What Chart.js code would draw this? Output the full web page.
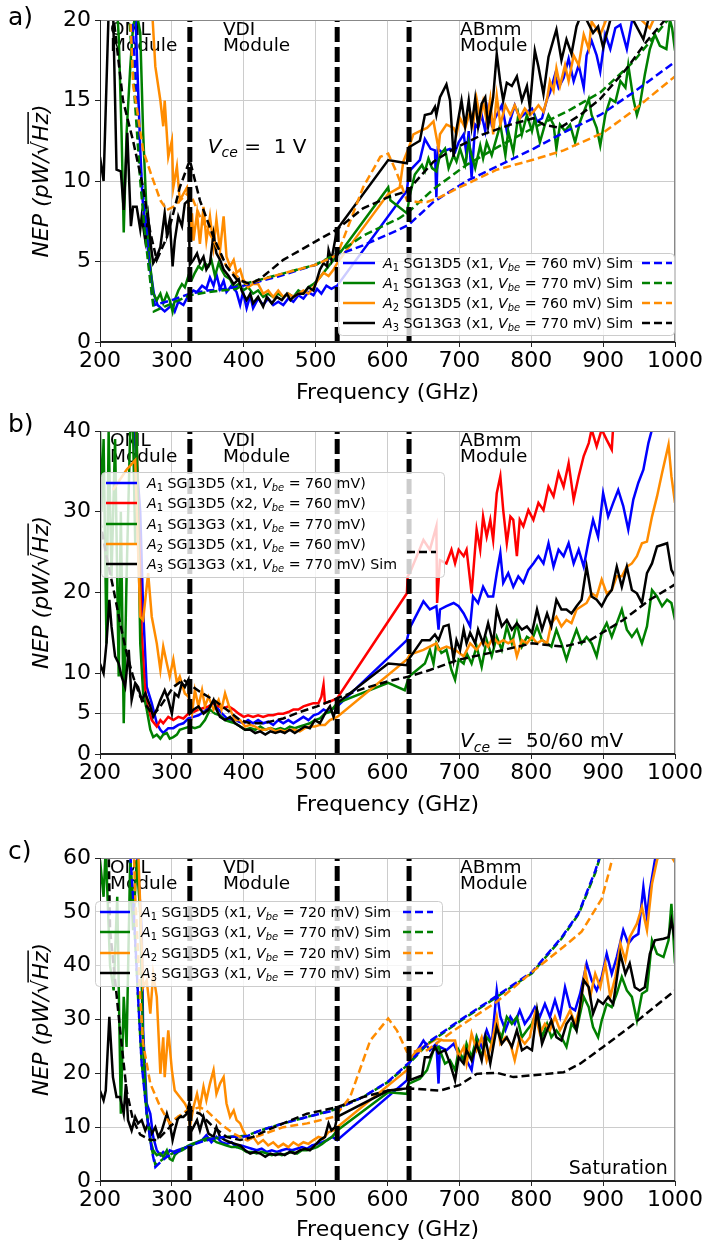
<!DOCTYPE html>
<html>
<head>
<meta charset="utf-8">
<script src="https://cdn.jsdelivr.net/npm/chart.js@4.4.0/dist/chart.umd.min.js"></script>
<style>
  body { margin: 0; background: #fff; width: 710px; height: 1247px; overflow: hidden; }
  canvas { position: absolute; left: 0; }
</style>
</head>
<body>
<canvas id="panelA" width="710" height="410" style="top:0px"></canvas>
<canvas id="panelB" width="710" height="412" style="top:410px"></canvas>
<canvas id="panelC" width="710" height="417" style="top:830px"></canvas>
<script>
// module borders (GHz)
const moduleEdges = [325, 530, 630];
const yTicksB = [0, 5, 10, 20, 30, 40];

// ---------- panel a) Vce = 1 V ----------
const aBlue = [[248,22],[252,17],[256,12],[259,9],[262,7.5],[266,6],[270,4.5],[275,3],[280,2.3],[290,1.9],[300,2.3],[304,1.9],[309,2.5],[316,2.3],[323,2.9],[330,3.2],[335,3.1],[342,3.5],[348,3.3],[353,4.0],[358,3.5],[362,4.2],[367,3.3],[372,3.8],[376,3.1],[383,3.5],[390,3.1],[395,2.3],[399,3.1],[404,2.1],[409,2.9],[413,2.1],[420,2.7],[427,2.3],[434,2.7],[441,2.3],[448,2.5],[455,2.3],[462,2.7],[469,2.5],[476,2.9],[483,2.7],[490,3.1],[497,2.9],[502,3.3],[508,3.0],[515,3.5],[522,3.3],[530,3.5],[627,9.4],[630,10.6],[645,11.3],[652,12.6],[660,12.0],[666,11.9],[668,9.0],[670,12.0],[675,11.8],[687,12.0],[694,11.8],[699,12.4],[706,12.9],[710,11.6],[713,13.1],[717,10.2],[722,13.5],[726,13.3],[731,14.1],[736,13.1],[740,14.5],[745,13.5],[752,14.1],[759,14.7],[766,13.1],[773,14.1],[777,14.7],[784,13.9],[794,14.3],[801,14.5],[808,13.7],[815,13.9],[822,15.1],[826,15.5],[833,16.6],[838,15.8],[845,16.4],[852,17.6],[859,16.2],[866,17.2],[873,15.8],[877,17.8],[884,18.7],[891,17.8],[896,16.8],[903,19.1],[910,18.2],[917,19.5],[924,19.7],[933,18.2],[940,19.9],[955,21],[970,20.3],[985,22],[1000,23]];
const aGreen = [[222,22],[226,19],[230,13],[233,6.8],[237,13],[242,17],[246,19.6],[251,20.5],[256,19.2],[260,13],[265,7.8],[270,4.7],[274,3.0],[279,2.6],[284,3.0],[288,2.4],[293,3.0],[297,2.6],[301,1.9],[304,2.6],[309,3.2],[314,3.6],[318,3.4],[323,4.1],[328,3.9],[332,4.3],[337,4.7],[342,4.5],[346,4.9],[351,4.7],[355,5.1],[360,4.1],[365,4.9],[369,4.5],[374,4.1],[381,3.9],[386,3.4],[393,3.6],[399,3.2],[406,3.4],[413,3.0],[420,3.2],[427,2.8],[434,3.0],[441,2.8],[448,3.0],[455,2.8],[462,3.0],[469,2.8],[476,3.2],[483,3.0],[490,3.4],[497,3.6],[504,3.9],[511,4.3],[518,4.7],[525,5.1],[530,5.3],[601,9.6],[604,8.8],[627,8.0],[631,9.1],[638,10.4],[648,11.0],[652,10.6],[657,11.4],[662,10.8],[668,10.6],[673,11.6],[680,12.0],[685,10.8],[692,11.6],[696,11.2],[701,12.0],[708,11.0],[713,12.4],[717,11.6],[722,10.8],[729,12.2],[733,11.4],[738,12.4],[745,11.6],[750,12.4],[757,13.5],[764,11.6],[768,13.1],[775,11.8],[782,14.1],[787,12.9],[794,14.1],[801,13.1],[805,13.9],[812,12.4],[819,13.5],[824,14.1],[831,13.5],[835,12.0],[840,13.5],[847,13.1],[854,13.5],[861,12.4],[868,13.7],[875,14.5],[880,15.1],[884,14.1],[891,13.3],[896,12.2],[903,14.1],[910,15.1],[917,14.9],[924,16.2],[931,15.8],[935,17.2],[942,15.1],[947,14.1],[951,14.7],[958,16.6],[965,18.2],[972,19.1],[979,18.4],[988,18.2],[993,20],[996,19.5],[1000,18.1]];
const aOrange = [[256,21],[272,21],[277,17.1],[284,15],[288,13.4],[290,15],[295,11.5],[300,12.5],[302,9.6],[307,10.9],[311,8.8],[316,9.2],[321,9.6],[323,9.0],[325,6.3],[328,8.0],[330,6.3],[335,8.0],[339,6.1],[344,8.4],[348,6.3],[353,7.8],[358,5.9],[362,7.6],[367,5.7],[372,7.8],[376,5.3],[381,4.7],[386,5.1],[390,4.3],[395,4.5],[399,3.9],[406,3.4],[413,3.6],[420,3.6],[427,3.0],[434,3.2],[441,2.8],[448,3.2],[455,2.8],[462,3.0],[469,2.8],[476,3.0],[483,3.2],[490,3.0],[497,3.4],[504,3.9],[511,4.3],[518,4.1],[525,4.5],[530,4.9],[601,9.2],[617,9.6],[622,11.2],[629,12.0],[636,12.9],[645,13.1],[655,13.3],[664,13.7],[671,12.0],[673,12.9],[682,13.5],[692,13.3],[696,12.9],[701,13.9],[708,13.3],[715,14.3],[719,13.5],[724,15.1],[729,13.9],[733,14.9],[738,13.7],[743,15.1],[747,12.9],[752,15.3],[757,13.5],[764,14.7],[771,14.1],[777,14.7],[784,13.9],[791,14.5],[798,14.1],[803,14.3],[810,14.7],[817,14.3],[822,15.1],[826,16.2],[831,15.6],[835,17.0],[840,15.9],[847,17.2],[852,16.2],[859,17.8],[866,17.2],[873,19.1],[880,18.2],[884,19.9],[896,19.1],[905,20.1],[930,21],[965,19.5],[980,21],[1000,21]];
const aBlack = [[200,11.5],[205,10],[212,20.5],[214,24],[218,21],[221,15],[223,10.7],[229,10.6],[233,8.2],[238,13],[243,7.2],[246,8.4],[251,8.4],[256,7.0],[258,7.8],[263,6.3],[267,7.8],[271,5.9],[274,4.9],[279,5.3],[284,5.9],[290,8.0],[293,6.7],[297,7.6],[301,4.7],[304,6.3],[309,7.8],[314,7.2],[318,8.6],[323,8.8],[325,4.8],[330,5.1],[335,5.5],[339,4.9],[344,5.3],[348,4.5],[353,4.9],[358,6.7],[362,5.5],[367,5.1],[372,4.5],[379,4.1],[386,3.6],[393,3.9],[397,3.2],[404,2.6],[409,3.0],[413,2.4],[420,2.8],[427,2.2],[432,2.8],[439,2.4],[446,2.8],[453,2.6],[460,3.0],[465,2.6],[469,2.8],[476,3.0],[483,3.0],[490,3.4],[497,3.2],[502,3.9],[506,4.5],[511,4.9],[516,4.7],[518,5.7],[522,5.1],[527,6.3],[530,7.0],[601,11.3],[627,11.1],[630,12.1],[645,12.5],[652,14.1],[661,14.2],[666,14.6],[668,14.1],[673,15.2],[682,16.0],[687,15.0],[692,11.5],[696,13.2],[703,15.0],[708,13.4],[713,15.0],[717,13.4],[722,15.1],[726,13.4],[731,14.8],[736,15.2],[740,13.4],[747,15.2],[752,17.9],[757,16.1],[761,15.0],[766,16.1],[773,15.9],[780,16.5],[787,15.0],[794,15.9],[798,14.6],[805,18.1],[810,17.1],[817,15.4],[824,17.7],[831,18.8],[835,19.4],[842,17.5],[849,18.8],[856,17.9],[863,19.6],[870,20.4],[877,20.0],[886,19.2],[893,19.6],[900,18.3],[910,20.0],[919,20.4],[937,20.4],[956,18.8],[965,20.4],[980,22],[1000,23]];
const aBlueSim = [[244,20.5],[249,17],[256,10.9],[265,6.8],[272,3.0],[276,2.3],[300,2.6],[325,3.0],[350,3.2],[375,3.3],[400,3.5],[450,4.1],[500,4.8],[530,5.4],[566,6.0],[617,7.0],[630,7.3],[664,8.7],[710,10.0],[757,11.0],[803,12.0],[849,13.1],[896,14.1],[942,15.5],[1000,17.4]];
const aGreenSim = [[238,22],[244,18],[250,14],[256,10],[262,7.0],[268,4.5],[275,1.9],[300,2.4],[325,2.9],[350,3.1],[390,3.3],[400,3.6],[450,4.2],[500,4.8],[530,5.5],[566,6.6],[617,7.7],[630,8.1],[664,9.5],[710,11.0],[757,12.2],[803,13.3],[849,14.3],[896,15.5],[942,17.4],[988,19.9],[1000,20.4]];
const aOrangeSim = [[242,20.5],[246,16],[251,14.6],[260,11.9],[272,10.3],[284,8.8],[293,8.2],[302,8.4],[321,9.2],[325,9.3],[339,7.8],[358,6.3],[376,4.7],[395,3.9],[404,3.6],[450,4.2],[500,4.8],[530,5.4],[566,9.6],[590,11.5],[601,11.7],[613,10.5],[627,8.8],[641,8.7],[655,8.7],[673,9.0],[700,9.6],[752,10.7],[801,11.3],[845,11.9],[900,13.0],[937,14.2],[1000,16.5]];
const aBlackSim = [[218,20.5],[232,15],[246,12.5],[260,9.6],[270,6.8],[279,5.1],[293,6.5],[302,8.0],[311,9.6],[325,11.3],[339,8.8],[358,6.5],[376,4.7],[390,3.9],[409,3.6],[422,3.9],[455,5.1],[502,6.3],[530,7.0],[566,8.3],[601,9.0],[630,9.4],[636,9.8],[664,11.2],[692,12.0],[733,12.9],[771,13.5],[803,13.9],[817,13.5],[840,13.3],[868,14.1],[896,15.1],[933,17.0],[961,18.7],[988,20.1],[1000,20.8]];

// ---------- panel b) Vce = 50/60 mV ----------
const bBlue = [[246,42],[256,30],[260,17.9],[265,8.3],[272,6.3],[279,3.8],[284,3.0],[288,2.6],[295,3.2],[302,3.2],[309,3.6],[316,3.8],[323,4.4],[330,4.6],[337,4.8],[344,5.2],[351,5.7],[358,6.3],[365,5.5],[372,4.8],[379,4.2],[386,4.4],[393,4.0],[400,3.8],[406,4.2],[413,3.8],[420,4.2],[427,3.8],[434,4.0],[441,3.6],[448,4.2],[455,3.8],[462,4.2],[469,3.8],[476,4.2],[483,4.6],[490,4.2],[497,4.8],[504,5.0],[511,5.5],[518,5.2],[525,5.7],[530,5.9],[627,14.1],[631,15.6],[650,18.9],[659,17.9],[668,18.3],[671,15.4],[673,17.9],[682,18.3],[692,18.7],[699,18.3],[706,17.4],[715,15.8],[719,19.5],[726,18.7],[733,20.7],[740,19.5],[747,19.5],[752,22.4],[757,24.9],[761,21.2],[768,22.4],[775,20.7],[782,22.0],[789,21.2],[796,22.8],[803,23.6],[810,24.5],[817,23.6],[824,26.1],[831,23.2],[838,25.3],[845,24.5],[852,26.1],[859,23.6],[866,25.3],[873,23.2],[880,26.5],[886,29.0],[893,26.9],[900,32.3],[907,29.4],[914,31.1],[921,32.7],[928,30.7],[935,27.8],[942,31.5],[949,33.6],[956,35.2],[963,38.5],[968,40.2],[972,43]];
const bRed = [[249,45],[255,25],[258,15],[262,8.8],[265,6.3],[272,4.2],[279,3.4],[284,4.2],[288,3.8],[295,4.6],[302,4.2],[309,4.6],[316,4.4],[323,5.0],[330,5.2],[337,5.5],[344,5.7],[351,5.9],[358,6.3],[365,5.9],[372,5.7],[379,5.9],[386,5.5],[393,5.0],[400,4.6],[406,4.8],[413,4.6],[420,4.8],[427,4.6],[434,4.8],[441,4.8],[448,5.0],[455,5.0],[462,5.2],[469,5.5],[476,5.5],[483,5.9],[490,6.1],[497,6.3],[504,6.3],[508,7.1],[511,8.6],[513,6.3],[520,6.5],[530,6.9],[627,19.9],[628,22.0],[631,22.4],[650,26.5],[659,25.3],[668,28.2],[669,18.7],[673,24.0],[682,23.6],[689,25.3],[694,23.6],[699,25.3],[706,24.5],[710,25.3],[717,19.9],[724,27.8],[729,25.3],[733,29.4],[738,26.9],[743,29.0],[747,26.5],[752,32.3],[757,34.4],[761,30.2],[766,26.1],[771,29.4],[775,29.0],[780,24.5],[784,29.0],[789,28.2],[796,30.2],[803,29.0],[810,31.1],[817,30.2],[824,33.1],[831,31.9],[838,34.8],[845,33.1],[852,36.0],[859,31.5],[866,34.4],[873,36.9],[880,38.5],[884,40.2],[891,38.1],[898,40.2],[905,38.9],[912,37.7],[915,42]];
const bGreen = [[200,40],[202,30],[205,39],[209,13.7],[212,40],[216,22],[221,39],[226,9.6],[229,30],[233,3.8],[237,22],[242,40],[246,40],[249,26],[251,40],[256,13.7],[260,7.5],[265,5.5],[270,3.0],[274,2.1],[279,2.4],[284,1.9],[288,2.4],[293,2.6],[297,1.9],[302,2.1],[307,2.4],[311,3.0],[318,3.2],[325,3.4],[332,3.2],[339,3.4],[346,4.2],[353,5.5],[360,5.0],[367,4.8],[374,4.2],[381,4.0],[388,3.8],[395,3.4],[402,3.0],[409,3.2],[416,3.0],[423,3.4],[430,3.0],[437,3.2],[444,3.0],[451,3.2],[457,3.0],[464,3.4],[471,3.2],[478,3.4],[485,3.6],[492,3.8],[499,4.2],[506,4.4],[513,5.0],[520,5.2],[530,6.3],[601,8.8],[624,7.9],[630,9.6],[641,10.4],[652,11.2],[659,12.9],[664,11.2],[668,13.7],[675,12.5],[682,12.9],[689,10.4],[694,9.2],[699,11.7],[706,11.2],[710,12.5],[717,11.2],[724,13.3],[731,10.8],[738,14.1],[745,12.1],[752,14.5],[759,12.9],[766,15.8],[773,13.7],[780,16.2],[787,13.3],[794,14.5],[801,14.1],[808,15.8],[815,14.1],[822,13.7],[828,13.3],[835,15.4],[842,13.7],[849,11.7],[856,13.7],[863,15.4],[870,13.7],[877,14.5],[884,13.7],[891,12.1],[898,15.0],[905,16.2],[912,14.5],[919,16.2],[926,17.9],[933,15.4],[940,14.5],[947,15.4],[954,13.7],[961,15.8],[968,20.3],[975,19.5],[982,18.3],[989,19.1],[995,18.7],[1000,16.6]];
const bOrange = [[218,32.7],[237,35.2],[249,36.4],[256,17],[260,16.6],[267,22.4],[272,17],[279,13.7],[284,10.4],[288,13.3],[293,11.2],[297,9.6],[302,11.7],[307,8.8],[311,9.6],[318,7.5],[323,7.1],[328,5.0],[332,7.9],[337,5.9],[342,7.9],[346,5.9],[351,7.1],[358,5.5],[365,6.7],[369,5.5],[374,7.5],[381,5.5],[388,4.2],[395,4.2],[402,3.4],[409,3.6],[416,3.4],[423,3.0],[430,3.0],[437,3.2],[444,2.8],[451,3.0],[457,2.8],[464,3.0],[471,3.0],[478,2.8],[485,3.2],[492,3.4],[499,3.4],[506,3.6],[513,3.6],[520,4.2],[530,4.6],[627,11.7],[631,12.3],[650,12.9],[668,13.7],[671,12.9],[682,13.3],[694,12.9],[706,12.1],[715,13.7],[724,12.9],[733,14.1],[740,13.3],[747,14.5],[754,13.7],[761,14.1],[768,13.7],[775,14.1],[780,12.1],[787,14.1],[794,13.7],[801,14.5],[808,13.7],[815,14.1],[822,13.7],[828,16.2],[835,17.0],[842,15.8],[849,16.6],[856,16.2],[863,17.9],[870,18.3],[877,18.7],[884,19.9],[891,19.5],[898,21.6],[905,19.9],[912,20.3],[919,22.0],[926,22.0],[933,23.2],[940,23.6],[947,24.5],[954,26.1],[961,26.3],[968,29.4],[975,31.9],[982,34.8],[991,38.3],[995,34.4],[1000,31.1]];
const bBlack = [[200,11.2],[205,10],[209,13.7],[213,19.1],[216,15.8],[221,12.1],[226,11.2],[230,9.6],[235,8.3],[240,12.9],[244,6.7],[249,8.8],[253,8.3],[258,6.7],[263,7.5],[270,5.9],[274,4.6],[279,5.5],[284,6.7],[290,7.9],[295,6.7],[300,5.0],[304,7.5],[309,7.1],[314,8.8],[318,8.3],[323,9.2],[325,5.0],[330,5.5],[337,5.9],[344,5.0],[351,5.5],[358,6.7],[362,5.5],[367,4.6],[374,4.2],[381,4.6],[388,3.8],[395,3.4],[402,3.0],[409,3.0],[416,2.6],[423,2.8],[430,2.4],[437,2.8],[444,2.6],[451,2.8],[457,2.6],[464,3.0],[471,2.6],[478,3.0],[485,3.4],[492,3.2],[499,4.2],[506,3.8],[513,5.0],[520,5.9],[525,4.6],[530,6.3],[601,11.2],[627,11.0],[631,11.9],[648,14.1],[659,14.1],[666,14.8],[671,14.1],[678,15.8],[685,16.0],[692,11.7],[696,14.1],[701,12.9],[706,15.4],[710,13.7],[715,15.0],[722,13.7],[726,15.4],[733,13.7],[740,16.2],[747,13.7],[752,17.9],[759,15.8],[766,16.6],[773,15.4],[780,16.2],[787,15.4],[794,15.8],[801,15.0],[808,17.9],[815,15.4],[822,17.4],[828,15.8],[835,19.1],[842,17.9],[849,17.9],[856,17.4],[863,18.3],[870,19.1],[877,23.2],[884,19.5],[891,19.1],[898,18.3],[905,19.5],[912,20.3],[919,23.2],[926,20.7],[933,23.2],[940,20.3],[947,19.9],[954,18.7],[961,22.4],[968,23.6],[975,25.7],[989,26.1],[995,22.8],[1000,22.0]];
const bBlackSim = [[200,29],[209,24.5],[219,20.3],[228,16.2],[237,12.5],[246,9.6],[256,7.1],[265,5.9],[274,4.8],[284,5.9],[293,7.1],[302,8.3],[316,9.2],[325,8.6],[339,7.7],[358,6.7],[376,5.5],[395,4.2],[409,3.8],[427,3.8],[455,4.4],[478,5.2],[502,5.9],[530,6.9],[566,8.1],[601,9.0],[630,9.6],[659,10.4],[700,11.7],[752,12.7],[801,13.7],[845,13.3],[882,14.1],[928,16.6],[965,19.1],[1000,21.0]];

// ---------- panel c) Saturation ----------
const cBlue = [[251,62],[258,46.6],[260,28],[265,14.4],[270,12.5],[274,8.2],[279,5.7],[284,4.8],[288,5.4],[293,4.8],[297,5.7],[302,5.4],[307,5.7],[314,6.0],[321,6.3],[328,6.6],[335,7.2],[342,7.6],[348,8.5],[355,7.2],[362,8.2],[369,7.2],[376,6.9],[383,7.2],[390,6.3],[397,6.6],[404,6.3],[411,6.0],[418,5.7],[425,6.0],[432,5.4],[439,5.7],[446,5.4],[453,5.7],[460,6.0],[467,5.7],[474,6.0],[481,6.3],[488,6.0],[495,6.6],[502,6.9],[509,7.2],[516,7.6],[523,8.2],[530,7.6],[627,18.7],[630,21.8],[650,26.1],[659,24.3],[668,25.5],[671,18.1],[673,24.9],[682,24.3],[692,25.5],[701,23.0],[710,22.4],[717,20.6],[724,26.7],[731,24.9],[738,28.0],[745,25.5],[752,35.4],[757,30.5],[764,28.0],[771,30.5],[777,29.2],[784,31.7],[791,29.2],[798,30.5],[805,32.3],[812,30.5],[819,32.9],[826,30.5],[833,33.6],[840,30.5],[847,36.0],[854,32.3],[861,31.7],[868,34.8],[877,40.4],[884,37.3],[891,35.4],[898,37.9],[905,42.2],[912,38.5],[919,41.6],[928,46.6],[935,44.1],[942,45.3],[949,45.9],[956,54.6],[961,49.0],[965,54.0],[972,59.6],[979,63]];
const cGreen = [[200,59.6],[205,52.8],[208,62],[214,40],[219,35.4],[224,52.8],[229,12.5],[233,34.2],[237,24.9],[242,59.6],[246,46.6],[251,59.6],[256,49.7],[260,24.9],[265,12.5],[270,7.6],[274,5.7],[279,4.8],[284,5.1],[288,4.5],[293,5.7],[297,4.1],[301,3.8],[304,4.8],[309,5.4],[314,5.7],[318,6.0],[323,6.6],[328,6.9],[335,7.2],[342,7.6],[348,7.9],[355,7.9],[362,7.2],[369,6.9],[376,6.6],[383,6.3],[390,6.3],[397,6.0],[404,5.4],[411,5.4],[418,5.1],[425,5.4],[432,5.1],[439,4.8],[446,5.1],[453,4.8],[460,5.1],[467,5.4],[474,5.1],[481,5.7],[488,5.7],[495,6.0],[502,6.3],[509,6.9],[516,7.6],[523,8.2],[530,9.4],[601,16.5],[627,16.2],[630,18.1],[645,19.0],[655,20.6],[664,24.3],[671,24.9],[680,21.8],[687,22.4],[694,20.6],[699,24.3],[706,22.4],[710,25.5],[717,23.0],[724,26.7],[731,23.0],[738,26.7],[745,25.5],[752,28.6],[759,26.7],[766,30.5],[773,29.2],[780,30.5],[787,26.7],[794,28.0],[801,29.2],[808,31.7],[815,26.7],[822,29.2],[828,26.7],[835,28.0],[842,26.7],[849,24.9],[856,29.2],[863,28.0],[873,34.2],[880,32.3],[886,28.6],[893,26.7],[898,29.8],[905,32.9],[912,32.3],[919,34.8],[926,37.9],[933,35.4],[940,34.2],[947,29.8],[954,34.8],[961,35.4],[968,44.7],[975,42.2],[984,41.6],[991,44.7],[995,51.5],[1000,40.4]];
const cOrange = [[253,62],[260,36.0],[265,37.3],[270,31.1],[274,38.5],[279,34.2],[284,19.9],[288,26.7],[290,19.3],[295,28.0],[300,20.6],[304,16.8],[311,15.6],[318,14.4],[323,13.1],[325,10.0],[330,13.7],[335,16.2],[339,13.7],[344,17.5],[348,15.0],[353,18.1],[358,20.6],[362,16.2],[367,18.1],[372,19.3],[376,14.4],[381,11.9],[386,13.1],[390,11.3],[395,10.7],[399,9.4],[406,7.6],[413,8.2],[420,6.9],[427,7.6],[434,6.6],[441,7.2],[448,6.3],[455,6.9],[462,6.3],[469,7.2],[476,6.6],[483,7.2],[490,6.9],[497,7.6],[504,8.2],[511,7.9],[518,9.1],[525,9.4],[530,10.0],[627,20.6],[630,22.4],[641,24.3],[650,24.9],[668,26.4],[678,26.1],[694,26.1],[699,23.0],[706,24.9],[710,21.8],[717,27.4],[724,24.3],[731,26.7],[738,22.4],[745,25.5],[752,30.5],[757,25.5],[764,26.7],[771,25.5],[777,22.4],[784,26.7],[791,25.5],[798,26.7],[805,31.1],[812,27.4],[819,29.2],[826,28.0],[833,30.5],[840,28.0],[847,29.8],[854,31.7],[861,29.2],[868,32.3],[875,39.1],[882,34.2],[889,38.5],[896,36.0],[903,40.4],[910,34.2],[917,37.9],[924,44.1],[931,41.0],[937,45.3],[947,47.8],[954,50.9],[961,46.6],[968,55.2],[975,59.6],[984,62.7],[998,59.6],[1000,61]];
const cBlack = [[200,16.8],[205,15],[208,16.8],[213,30.5],[218,19.3],[223,15.6],[228,15.6],[233,12.5],[236,18],[239,11.3],[244,9.4],[249,11.9],[253,10.7],[258,11.3],[263,9.4],[267,10.7],[272,8.8],[277,10.0],[281,8.2],[286,9.4],[293,12.5],[297,10.7],[301,7.6],[304,9.4],[309,11.9],[316,11.9],[321,12.5],[324,14.4],[325,8.8],[330,10.0],[335,11.3],[339,9.4],[344,11.9],[351,8.8],[358,8.2],[362,10.0],[367,8.2],[374,7.6],[381,7.2],[388,6.9],[395,6.6],[402,5.7],[409,5.1],[416,5.4],[423,5.1],[430,4.5],[437,5.1],[444,4.8],[451,5.1],[457,4.8],[464,5.4],[471,5.1],[478,5.7],[485,6.0],[492,5.7],[499,6.6],[506,7.6],[513,8.2],[518,10.7],[522,9.4],[527,10.0],[530,11.9],[601,16.8],[627,17.2],[630,18.7],[648,19.6],[652,23.0],[659,23.0],[666,24.9],[671,23.7],[680,24.3],[687,21.8],[694,18.7],[699,23.0],[706,21.8],[710,24.3],[717,22.4],[724,25.5],[731,22.4],[736,26.7],[743,21.8],[752,28.6],[759,25.5],[766,26.7],[773,24.9],[780,28.0],[787,24.3],[794,24.9],[801,24.3],[808,31.7],[815,25.5],[822,28.0],[828,29.8],[835,26.7],[842,26.1],[849,29.2],[856,30.5],[863,28.0],[873,37.3],[880,36.0],[886,31.1],[893,33.6],[900,32.9],[907,34.2],[914,32.9],[924,42.2],[931,38.5],[937,40.4],[944,36.0],[951,35.4],[958,36.0],[965,42.2],[972,44.7],[984,45.0],[991,45.3],[995,48.4],[1000,44.7]];
const cBlueSim = [[240,65],[246,52.8],[253,34.2],[258,21.8],[265,12.5],[272,5.7],[277,2.6],[284,3.5],[293,4.5],[302,5.1],[321,6.3],[339,7.2],[358,7.9],[376,8.2],[395,8.2],[404,8.3],[423,9.4],[455,10.7],[488,11.9],[525,13.1],[530,13.4],[566,15.6],[601,18.5],[630,22.0],[657,25.8],[700,29.8],[750,34.2],[801,38.8],[842,45.2],[866,49.8],[889,57.6],[896,60.5]];
const cGreenSim = [[240,64],[246,52],[253,34],[258,22],[265,12.8],[272,6.0],[277,3.0],[284,3.7],[293,4.6],[302,5.2],[321,6.4],[339,7.3],[358,7.9],[376,8.2],[395,8.3],[404,8.4],[423,9.4],[455,10.7],[488,11.9],[525,13.2],[530,13.5],[566,15.6],[601,18.4],[630,21.8],[657,25.6],[700,29.6],[750,34.0],[801,38.6],[842,45.0],[866,49.6],[889,57.2],[896,60.3]];
const cOrangeSim = [[247,62],[249,52.8],[256,34.2],[260,25.5],[270,18.1],[284,13.7],[297,10.7],[302,11.3],[321,13.1],[339,13.7],[348,13.1],[367,10.7],[386,8.8],[404,7.6],[423,8.5],[455,10.0],[488,10.7],[525,11.9],[530,12.5],[548,15.6],[576,26.1],[601,30.2],[613,28.0],[627,24.0],[631,24.0],[655,24.3],[696,28.3],[752,33.3],[801,38.8],[845,43.5],[870,46.3],[898,52.4],[907,56.8],[914,60.5]];
const cBlackSim = [[212,62],[214,46.6],[221,37.3],[228,28.0],[237,16.8],[246,11.3],[256,8.6],[270,7.6],[279,7.6],[284,8.2],[297,10.0],[311,11.9],[325,13.1],[339,12.5],[358,10.0],[376,8.2],[395,7.6],[413,8.2],[432,9.4],[455,10.7],[488,12.5],[530,13.7],[566,15.6],[601,16.8],[630,17.2],[673,16.8],[700,17.8],[724,19.9],[752,20.1],[775,19.3],[822,19.9],[845,20.2],[868,21.8],[900,24.9],[937,28.6],[1000,35.4]];

const FONT = '"DejaVu Sans", sans-serif';
const BLUE = '#0000ff', GREEN = '#008000', ORANGE = '#ff8c00', BLACK = '#000000', RED = '#ff0000';

// draw text with mathtext-like bits: A_1 (italic A, sub 1), V_be (italic V, italic sub)
function drawRich(ctx, x, cy, str, size) {
  const re = /([AV])_(\w+)/g;
  const segs = [];
  let last = 0, m;
  while ((m = re.exec(str))) {
    if (m.index > last) segs.push([str.slice(last, m.index), 'n']);
    segs.push([m[1], 'i']);
    segs.push([m[2], m[1] === 'A' ? 's' : 'si']);
    last = re.lastIndex;
  }
  if (last < str.length) segs.push([str.slice(last), 'n']);
  const base = cy + size * 0.36;
  ctx.textBaseline = 'alphabetic';
  ctx.textAlign = 'left';
  ctx.fillStyle = '#000';
  segs.forEach(([t, k]) => {
    const sub = k[0] === 's';
    const fs = sub ? size * 0.7 : size;
    ctx.font = (k.indexOf('i') >= 0 ? 'italic ' : '') + fs + 'px ' + FONT;
    ctx.fillText(t, x, base + (sub ? size * 0.22 : 0));
    x += ctx.measureText(t).width;
  });
  return x;
}

function drawLegend(ctx, L) {
  ctx.save();
  ctx.beginPath();
  ctx.roundRect(L.x0 + 0.5, L.y0 + 0.5, L.x1 - L.x0, L.y1 - L.y0, 4);
  ctx.fillStyle = 'rgba(255,255,255,0.8)';
  ctx.fill();
  ctx.strokeStyle = '#cccccc';
  ctx.lineWidth = 1;
  ctx.stroke();
  L.rows.forEach(r => {
    ctx.lineWidth = 2.5;
    ctx.strokeStyle = r.color;
    ctx.setLineDash([]);
    ctx.beginPath(); ctx.moveTo(L.hx0, r.cy); ctx.lineTo(L.hx1, r.cy); ctx.stroke();
    drawRich(ctx, L.tx, r.cy, r.label, L.size);
    if (r.sim) {
      const dy = r.simDy || 0;
      ctx.setLineDash([8, 4]);
      ctx.strokeStyle = r.color;
      ctx.lineWidth = 2.5;
      ctx.beginPath(); ctx.moveTo(L.dx0, r.cy + dy); ctx.lineTo(L.dx1, r.cy + dy); ctx.stroke();
    }
  });
  ctx.restore();
}

function drawYTitle(ctx, cx, cy) {
  const size = 22;
  const it = 'italic ' + size + 'px ' + FONT, up = size + 'px ' + FONT;
  const parts = [['NEP (pW/', it], ['\u221A', up], ['Hz', it], [')', it]];
  ctx.save();
  ctx.translate(cx, cy);
  ctx.rotate(-Math.PI / 2);
  ctx.fillStyle = '#000';
  ctx.textBaseline = 'alphabetic';
  ctx.textAlign = 'left';
  let w = 0;
  const ws = parts.map(p => { ctx.font = p[1]; const v = ctx.measureText(p[0]).width; w += v; return v; });
  let x = -w / 2;
  const base = size * 0.36;
  let sx = 0, hzEnd = 0;
  parts.forEach((p, i) => {
    ctx.font = p[1];
    ctx.fillText(p[0], x, base);
    if (i === 1) sx = x + ws[i] * 0.8;
    x += ws[i];
    if (i === 2) hzEnd = x;
  });
  ctx.strokeStyle = '#000';
  ctx.lineWidth = 1.5;
  ctx.beginPath();
  ctx.moveTo(sx, base - size * 0.9);
  ctx.lineTo(hzEnd + 1, base - size * 0.9);
  ctx.stroke();
  ctx.restore();
}

const decorPlugin = {
  id: 'decor',
  beforeDatasetsDraw(chart, args, o) {
    const ctx = chart.ctx, xs = chart.scales.x, top = chart.chartArea.top;
    ctx.save();
    ctx.fillStyle = '#000';
    ctx.font = '18.5px ' + FONT;
    ctx.textAlign = 'left';
    ctx.textBaseline = 'middle';
    o.modules.forEach(m => {
      const px = xs.getPixelForValue(m[0]);
      ctx.fillText(m[1], px, top + 10);
      ctx.fillText('Module', px, top + 26);
    });
    ctx.restore();
  },
  afterDatasetsDraw(chart, args, o) {
    const ctx = chart.ctx, a = chart.chartArea, xs = chart.scales.x, ys = chart.scales.y;
    ctx.save();
    // frame
    ctx.strokeStyle = '#888';
    ctx.lineWidth = 1;
    ctx.beginPath();
    ctx.moveTo(a.left, a.top + 0.5); ctx.lineTo(a.right - 0.5, a.top + 0.5); ctx.lineTo(a.right - 0.5, a.bottom);
    ctx.stroke();
    ctx.strokeStyle = '#222';
    ctx.beginPath();
    ctx.moveTo(a.left + 0.5, a.top); ctx.lineTo(a.left + 0.5, a.bottom - 0.5); ctx.lineTo(a.right, a.bottom - 0.5);
    ctx.stroke();
    // text notes
    (o.notes || []).forEach(n => {
      const px = xs.getPixelForValue(n.f), py = ys.getPixelForValue(n.v);
      if (n.rich) {
        drawRich(ctx, px, py, n.text, n.size);
      } else {
        ctx.font = n.size + 'px ' + FONT;
        ctx.fillStyle = '#000';
        ctx.textAlign = n.align || 'left';
        ctx.textBaseline = 'middle';
        ctx.fillText(n.text, px, py);
      }
    });
    drawLegend(ctx, o.legend);
    ctx.restore();
  },
  afterDraw(chart, args, o) {
    const ctx = chart.ctx, a = chart.chartArea;
    ctx.save();
    ctx.fillStyle = '#000';
    ctx.font = '25px ' + FONT;
    ctx.textAlign = 'left';
    ctx.textBaseline = 'middle';
    ctx.fillText(o.letter[0], 8, o.letter[1]);
    drawYTitle(ctx, 40, (a.top + a.bottom) / 2);
    ctx.restore();
  }
};

function makePanel(id, p) {
  const n = p.series.length;
  const datasets = p.series.map((s, i) => ({
    data: s.pts.map(q => ({ x: q[0], y: q[1] })),
    borderColor: s.color,
    borderWidth: 2.5,
    borderDash: s.sim ? [8, 4] : [],
    pointRadius: 0,
    tension: 0,
    clip: 0,
    order: n - i + 10
  }));
  moduleEdges.forEach(f => datasets.push({
    data: [{ x: f, y: 0 }, { x: f, y: p.yMax }],
    borderColor: '#000', borderWidth: 5, borderDash: [15, 5],
    pointRadius: 0, clip: 0, order: 0
  }));
  const tickFont = { family: FONT, size: 22 };
  return new Chart(document.getElementById(id), {
    type: 'line',
    data: { datasets },
    options: {
      responsive: false,
      animation: false,
      devicePixelRatio: 1,
      events: [],
      layout: { padding: { left: 0, right: 35, top: p.padTop, bottom: 0 } },
      plugins: {
        legend: { display: false },
        tooltip: { enabled: false },
        decor: p.decor
      },
      scales: {
        x: {
          type: 'linear', min: 200, max: 1000,
          ticks: { stepSize: 100, color: '#000', font: tickFont, padding: 1, maxRotation: 0, callback: v => String(v) },
          grid: { color: '#cccccc', lineWidth: 1, tickLength: 5, tickColor: '#222' },
          border: { color: '#222' },
          title: { display: true, text: 'Frequency (GHz)', color: '#000', font: tickFont, padding: { top: 0, bottom: 4 } },
          afterFit: s => { s.height = p.xH; }
        },
        y: {
          type: 'linear', min: 0, max: p.yMax,
          ticks: { stepSize: p.yStep, color: '#000', font: tickFont, padding: 4, callback: v => String(v) },
          grid: { color: '#cccccc', lineWidth: 1, tickLength: 5, tickColor: '#222' },
          border: { color: '#222' },
          afterBuildTicks: p.yTicks ? (s => { s.ticks = p.yTicks.map(v => ({ value: v })); }) : undefined,
          afterFit: s => { s.width = 100; }
        }
      }
    },
    plugins: [decorPlugin]
  });
}

const modulesText = [[214, 'OML'], [371, 'VDI'], [701, 'ABmm']];

makePanel('panelA', {
  yMax: 20, yStep: 5, padTop: 20, xH: 68,
  series: [
    { pts: aBlue, color: BLUE }, { pts: aGreen, color: GREEN },
    { pts: aOrange, color: ORANGE }, { pts: aBlack, color: BLACK },
    { pts: aBlueSim, color: BLUE, sim: true }, { pts: aGreenSim, color: GREEN, sim: true },
    { pts: aOrangeSim, color: ORANGE, sim: true }, { pts: aBlackSim, color: BLACK, sim: true }
  ],
  decor: {
    letter: ['a)', 18],
    modules: modulesText,
    notes: [{ f: 350, v: 12.2, text: 'V_ce =  1 V', size: 20, rich: true }],
    legend: {
      x0: 338, x1: 674, y0: 253, y1: 335, hx0: 343, hx1: 375, tx: 383, dx0: 642, dx1: 672, size: 14.2,
      rows: [
        { cy: 263, color: BLUE, label: 'A_1 SG13D5 (x1, V_be = 760 mV) Sim', sim: true },
        { cy: 283, color: GREEN, label: 'A_1 SG13G3 (x1, V_be = 770 mV) Sim', sim: true },
        { cy: 303, color: ORANGE, label: 'A_2 SG13D5 (x1, V_be = 760 mV) Sim', sim: true },
        { cy: 323, color: BLACK, label: 'A_3 SG13G3 (x1, V_be = 770 mV) Sim', sim: true }
      ]
    }
  }
});

makePanel('panelB', {
  yMax: 40, yStep: 10, yTicks: yTicksB, padTop: 21, xH: 68,
  series: [
    { pts: bBlue, color: BLUE }, { pts: bRed, color: RED }, { pts: bGreen, color: GREEN },
    { pts: bOrange, color: ORANGE }, { pts: bBlack, color: BLACK },
    { pts: bBlackSim, color: BLACK, sim: true }
  ],
  decor: {
    letter: ['b)', 15],
    modules: modulesText,
    notes: [{ f: 701, v: 1.7, text: 'V_ce =  50/60 mV', size: 20, rich: true }],
    legend: {
      x0: 101, x1: 444, y0: 62, y1: 167, hx0: 106, hx1: 137, tx: 147, dx0: 407, dx1: 436, size: 14.2,
      rows: [
        { cy: 73, color: BLUE, label: 'A_1 SG13D5 (x1, V_be = 760 mV)' },
        { cy: 93, color: RED, label: 'A_1 SG13D5 (x2, V_be = 760 mV)' },
        { cy: 114, color: GREEN, label: 'A_1 SG13G3 (x1, V_be = 770 mV)' },
        { cy: 134, color: ORANGE, label: 'A_2 SG13D5 (x1, V_be = 760 mV)' },
        { cy: 154, color: BLACK, label: 'A_3 SG13G3 (x1, V_be = 770 mV) Sim', sim: true, simDy: -12 }
      ]
    }
  }
});

makePanel('panelC', {
  yMax: 60, yStep: 10, padTop: 28, xH: 66,
  series: [
    { pts: cBlue, color: BLUE }, { pts: cGreen, color: GREEN },
    { pts: cOrange, color: ORANGE }, { pts: cBlack, color: BLACK },
    { pts: cGreenSim, color: GREEN, sim: true }, { pts: cBlueSim, color: BLUE, sim: true },
    { pts: cOrangeSim, color: ORANGE, sim: true }, { pts: cBlackSim, color: BLACK, sim: true }
  ],
  decor: {
    letter: ['c)', 22],
    modules: modulesText,
    notes: [{ f: 990, v: 2.2, text: 'Saturation', size: 19, align: 'right' }],
    legend: {
      x0: 95, x1: 442, y0: 71, y1: 156, hx0: 100, hx1: 130, tx: 141, dx0: 403, dx1: 433, size: 14.2,
      rows: [
        { cy: 82, color: BLUE, label: 'A_1 SG13D5 (x1, V_be = 720 mV) Sim', sim: true },
        { cy: 102, color: GREEN, label: 'A_1 SG13G3 (x1, V_be = 770 mV) Sim', sim: true },
        { cy: 123, color: ORANGE, label: 'A_2 SG13D5 (x1, V_be = 720 mV) Sim', sim: true },
        { cy: 143, color: BLACK, label: 'A_3 SG13G3 (x1, V_be = 770 mV) Sim', sim: true }
      ]
    }
  }
});
</script>
</body>
</html>
